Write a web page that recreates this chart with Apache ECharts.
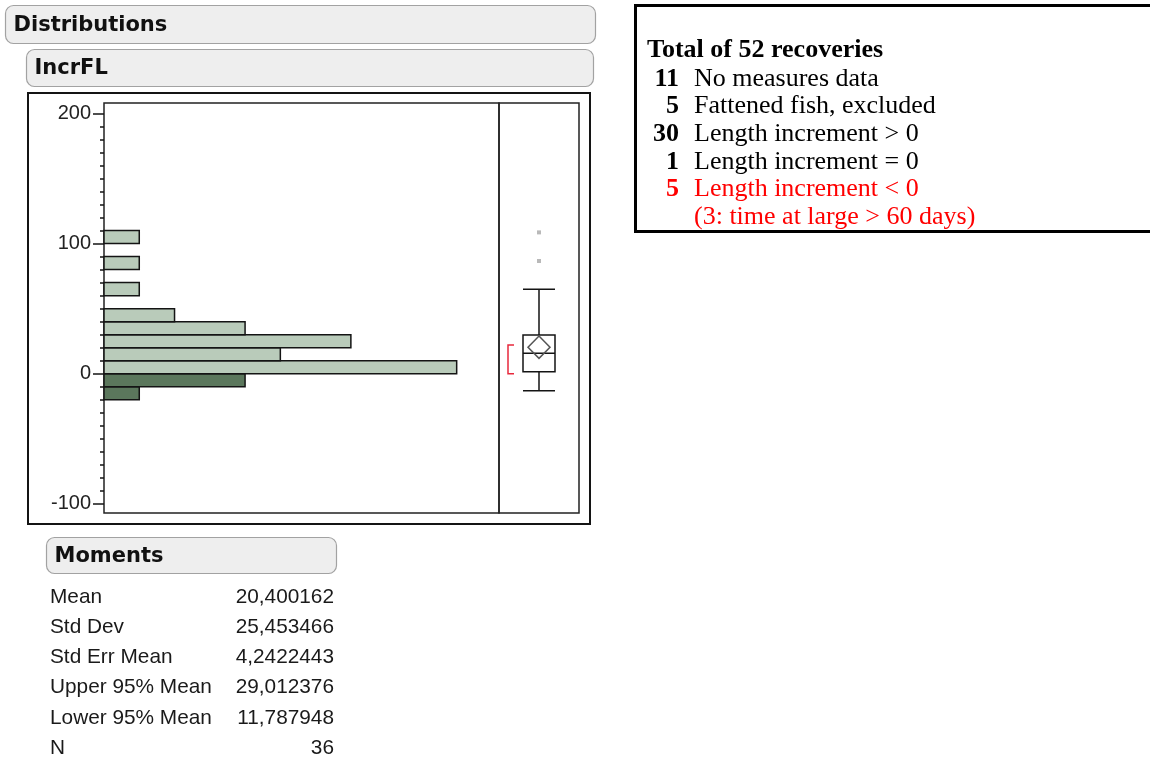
<!DOCTYPE html>
<html>
<head>
<meta charset="utf-8">
<script src="https://cdn.jsdelivr.net/npm/echarts@6/dist/echarts.min.js"></script>
<style>
  html, body { margin: 0; padding: 0; background: #fff; }
  #chart { width: 1150px; height: 763px; }
</style>
</head>
<body>
<div id="chart"></div>
<script>
// IncrFL histogram: lower edge of each bin (width 10) and its count
const binStarts = [-20, -10, 0, 10, 20, 30, 40, 50, 60, 70, 80, 90, 100];
const binCounts = [1, 4, 10, 5, 7, 4, 2, 0, 1, 0, 1, 0, 1];
const binWidth = 10;

// Outlier box plot: low whisker, Q1, median, Q3, high whisker
const boxStats = [-13, 1.5, 15.7, 29.7, 65];
const outliers = [86.6, 108.6];
// Means diamond: mean, lower 95%, upper 95%
const meanDiamond = [20.400162, 11.787948, 29.012376];
// Shortest half bracket
const shortestHalf = [0, 22];

// Y axis ticks
const yMajorTicks = [-100, 0, 100, 200];
const yMinorTicks = [-90, -80, -70, -60, -50, -40, -30, -20, -10,
  10, 20, 30, 40, 50, 60, 70, 80, 90,
  110, 120, 130, 140, 150, 160, 170, 180, 190];

// Moments table
const momentNames = ['Mean', 'Std Dev', 'Std Err Mean', 'Upper 95% Mean', 'Lower 95% Mean', 'N'];
const momentValues = ['20,400162', '25,453466', '4,2422443', '29,012376', '11,787948', '36'];

// Recoveries summary box
const recoveryTitle = 'Total of 52 recoveries';
const recoveryCounts = ['11', '5', '30', '1', '5', ''];
const recoveryLabels = ['No measures data', 'Fattened fish, excluded', 'Length increment > 0',
  'Length increment = 0', 'Length increment < 0', '(3: time at large > 60 days)'];
const recoveryRed = [false, false, false, false, true, true];

const Y_MIN = -107, Y_MAX = 208;
const LIGHT = '#b9cbba', DARK = '#5b775c', INK = '#141414', RED = '#ff0000';

const histData = binStarts
  .map((s, i) => [s, s + binWidth, binCounts[i]])
  .filter(d => d[2] > 0);

function headerBar(x, y, w, h, label) {
  return [
    { type: 'rect', z: 1, shape: { x: x, y: y, width: w, height: h, r: 8 },
      style: { fill: '#eeeeee', stroke: '#a2a2a2', lineWidth: 1.2 } },
    { type: 'text', z: 2, x: x + 8, y: y + h / 2 + 1,
      style: { text: label, font: 'bold 21px "DejaVu Sans"', fill: '#111', align: 'left', verticalAlign: 'middle' } }
  ];
}

const graphics = [];
graphics.push(...headerBar(5.5, 5.5, 590, 38, 'Distributions'));
graphics.push(...headerBar(26.5, 49.5, 567, 37, 'IncrFL'));
graphics.push(...headerBar(46.5, 537.5, 290, 36, 'Moments'));

// frame around the distribution report
graphics.push({ type: 'rect', z: 0, shape: { x: 28, y: 93, width: 562, height: 431 },
  style: { fill: 'none', stroke: INK, lineWidth: 2 } });

// moments table
momentNames.forEach((name, i) => {
  const y = 597 + i * 30.2;
  graphics.push({ type: 'text', x: 50, y: y,
    style: { text: name, font: '20.8px "Liberation Sans"', fill: '#1a1a1a', align: 'left', verticalAlign: 'middle' } });
  graphics.push({ type: 'text', x: 334, y: y,
    style: { text: momentValues[i], font: '20.8px "Liberation Sans"', fill: '#1a1a1a', align: 'right', verticalAlign: 'middle' } });
});

// recoveries box
graphics.push({ type: 'rect', z: 0, shape: { x: 635.5, y: 5.5, width: 530, height: 226 },
  style: { fill: '#fff', stroke: '#000', lineWidth: 3 } });
graphics.push({ type: 'text', z: 2, x: 647, y: 50,
  style: { text: recoveryTitle, font: 'bold 26px "Liberation Serif"', fill: '#000', align: 'left', verticalAlign: 'middle' } });
recoveryLabels.forEach((label, i) => {
  const y = 79 + i * 27.6;
  const col = recoveryRed[i] ? RED : '#000';
  graphics.push({ type: 'text', z: 2, x: 679, y: y,
    style: { text: recoveryCounts[i], font: 'bold 26px "Liberation Serif"', fill: col, align: 'right', verticalAlign: 'middle' } });
  graphics.push({ type: 'text', z: 2, x: 694, y: y,
    style: { text: label, font: '26px "Liberation Serif"', fill: col, align: 'left', verticalAlign: 'middle' } });
});

const chart = echarts.init(document.getElementById('chart'), null, { renderer: 'canvas' });

chart.setOption({
  animation: false,
  backgroundColor: '#ffffff',
  graphic: { elements: graphics },
  grid: [
    { left: 104, top: 103, width: 395, height: 410, show: true, borderColor: '#222', borderWidth: 1.5, backgroundColor: 'transparent' },
    { left: 499, top: 103, width: 80, height: 410, show: true, borderColor: '#222', borderWidth: 1.5, backgroundColor: 'transparent' }
  ],
  xAxis: [
    { gridIndex: 0, type: 'value', min: 0, max: 11.2, show: false },
    { gridIndex: 1, type: 'category', data: ['IncrFL'], show: false }
  ],
  yAxis: [
    { gridIndex: 0, type: 'value', position: 'left', min: Y_MIN, max: Y_MAX,
      axisLine: { show: false }, splitLine: { show: false },
      axisTick: { show: true, customValues: yMajorTicks, length: 11, lineStyle: { color: INK, width: 1.5 } },
      axisLabel: { show: true, customValues: yMajorTicks, margin: 13, color: '#222',
        fontFamily: '"Liberation Sans"', fontSize: 20 } },
    { gridIndex: 0, type: 'value', position: 'left', offset: 0, min: Y_MIN, max: Y_MAX,
      axisLine: { show: false }, splitLine: { show: false }, axisLabel: { show: false },
      axisTick: { show: true, customValues: yMinorTicks, length: 4, lineStyle: { color: INK, width: 1.5 } } },
    { gridIndex: 1, type: 'value', min: Y_MIN, max: Y_MAX, show: false }
  ],
  series: [
    {
      type: 'custom', name: 'histogram', xAxisIndex: 0, yAxisIndex: 0,
      encode: { x: 2, y: [0, 1] },
      data: histData,
      renderItem: function (params, api) {
        const lo = api.value(0), hi = api.value(1), n = api.value(2);
        const p0 = api.coord([0, hi]);
        const p1 = api.coord([n, lo]);
        return {
          type: 'rect',
          shape: { x: p0[0], y: p0[1], width: p1[0] - p0[0], height: p1[1] - p0[1] },
          style: { fill: lo < 0 ? DARK : LIGHT, stroke: INK, lineWidth: 1.5 }
        };
      }
    },
    {
      type: 'boxplot', xAxisIndex: 1, yAxisIndex: 2,
      boxWidth: [32, 32],
      data: [boxStats],
      itemStyle: { color: 'transparent', borderColor: INK, borderWidth: 1.5 },
      z: 3
    },
    {
      type: 'scatter', xAxisIndex: 1, yAxisIndex: 2,
      symbol: 'rect', symbolSize: 4,
      itemStyle: { color: '#a8a8a8' },
      data: outliers.map(v => [0, v])
    },
    {
      type: 'custom', name: 'means diamond', xAxisIndex: 1, yAxisIndex: 2,
      data: [[0].concat(meanDiamond)],
      z: 4,
      renderItem: function (params, api) {
        const c = api.coord([0, api.value(1)]);
        const lo = api.coord([0, api.value(2)]);
        const hi = api.coord([0, api.value(3)]);
        const hw = 11;
        return {
          type: 'polygon',
          shape: { points: [[c[0], hi[1]], [c[0] + hw, c[1]], [c[0], lo[1]], [c[0] - hw, c[1]]] },
          style: { fill: 'none', stroke: '#555', lineWidth: 1.5 }
        };
      }
    },
    {
      type: 'custom', name: 'shortest half', xAxisIndex: 1, yAxisIndex: 2,
      data: [[0].concat(shortestHalf)],
      renderItem: function (params, api) {
        const a = api.coord([0, api.value(1)]);
        const b = api.coord([0, api.value(2)]);
        const xv = a[0] - 31, xe = a[0] - 25;
        return {
          type: 'polyline',
          shape: { points: [[xe, b[1]], [xv, b[1]], [xv, a[1]], [xe, a[1]]] },
          style: { fill: 'none', stroke: '#e8283c', lineWidth: 1.5 }
        };
      }
    }
  ]
});
</script>
</body>
</html>
